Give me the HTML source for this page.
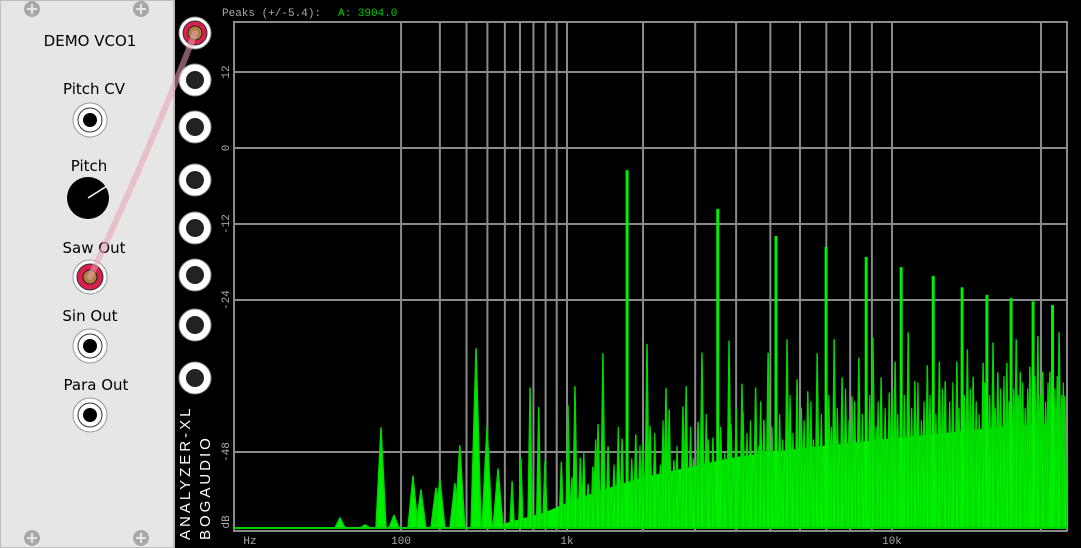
<!DOCTYPE html>
<html><head><meta charset="utf-8">
<style>
html,body{margin:0;padding:0;background:#000;width:1081px;height:548px;overflow:hidden;font-family:"Liberation Sans",sans-serif}
svg{display:block}
</style></head>
<body>
<svg id="root" width="1081" height="548" viewBox="0 0 1081 548" xmlns="http://www.w3.org/2000/svg">
  <g>
    <rect x="0" y="0" width="174" height="548" fill="#e6e6e6" stroke="#bdbdbd" stroke-width="2"/>
    <g><circle cx="32" cy="9" r="8" fill="#a8a8a8"/><path d="M27 9h10M32 4v10" stroke="#e6e6e6" stroke-width="2"/></g>
    <g><circle cx="141" cy="9" r="8" fill="#a8a8a8"/><path d="M136 9h10M141 4v10" stroke="#e6e6e6" stroke-width="2"/></g>
    <g><circle cx="32" cy="538" r="8" fill="#a8a8a8"/><path d="M27 538h10M32 533v10" stroke="#e6e6e6" stroke-width="2"/></g>
    <g><circle cx="141" cy="538" r="8" fill="#a8a8a8"/><path d="M136 538h10M141 533v10" stroke="#e6e6e6" stroke-width="2"/></g>
    <text x="90" y="46" text-anchor="middle" font-size="15" fill="#000" font-family="DejaVu Sans, sans-serif">DEMO VCO1</text>
    <text x="94" y="94" text-anchor="middle" font-size="15" fill="#000" font-family="DejaVu Sans, sans-serif">Pitch CV</text>
    <g><circle cx="90" cy="120" r="17" fill="#fff" stroke="#999"/><circle cx="90" cy="120" r="12" fill="#fff" stroke="#333"/><circle cx="90" cy="120" r="7" fill="#000"/></g>
    <text x="89" y="171" text-anchor="middle" font-size="15" fill="#000" font-family="DejaVu Sans, sans-serif">Pitch</text>
    <g><circle cx="88" cy="198" r="21" fill="#000"/><line x1="88" y1="198" x2="107" y2="186" stroke="#fff" stroke-width="1.5"/></g>
    <text x="94" y="253" text-anchor="middle" font-size="15" fill="#000" font-family="DejaVu Sans, sans-serif">Saw Out</text>
    <g><circle cx="90" cy="277" r="17" fill="#fff" stroke="#999"/><circle cx="90" cy="277" r="13" fill="#d8204a" stroke="#333"/><circle cx="90" cy="277" r="7" fill="#b08040" stroke="#222"/></g>
    <text x="90" y="321" text-anchor="middle" font-size="15" fill="#000" font-family="DejaVu Sans, sans-serif">Sin Out</text>
    <g><circle cx="90" cy="346" r="17" fill="#fff" stroke="#999"/><circle cx="90" cy="346" r="12" fill="#fff" stroke="#333"/><circle cx="90" cy="346" r="7" fill="#000"/></g>
    <text x="96" y="390" text-anchor="middle" font-size="15" fill="#000" font-family="DejaVu Sans, sans-serif">Para Out</text>
    <g><circle cx="90" cy="415" r="17" fill="#fff" stroke="#999"/><circle cx="90" cy="415" r="12" fill="#fff" stroke="#333"/><circle cx="90" cy="415" r="7" fill="#000"/></g>
  </g>
  <g>
    <rect x="175" y="0" width="906" height="548" fill="#000"/>
    <g id="jacks"></g>
    <text transform="translate(190,540) rotate(-90)" font-size="15" fill="#fff" letter-spacing="3">ANALYZER-XL</text>
    <text transform="translate(210,540) rotate(-90)" font-size="15" fill="#fff" letter-spacing="3">BOGAUDIO</text>
    <text x="222" y="16" font-size="11" fill="#aaa" font-family="Liberation Mono, monospace">Peaks (+/-5.4):</text>
    <text x="338" y="16" font-size="11" fill="#0c0" font-family="Liberation Mono, monospace">A: 3904.0</text>
    <g id="plot"></g>
  </g>
  <path d="M90 277 Q 150 150 195 33" stroke="#e8a0b0" stroke-opacity="0.55" stroke-width="6" fill="none" stroke-linecap="round"/>
</svg>
<script>
// ---- data ----
const vGridFreqs = [100,200,300,400,500,600,700,800,900,1000,2000,3000,4000,5000,6000,7000,8000,9000,10000,20000];
const hGridDb = [12,0,-12,-24,-48];
const yTickLabels = ["12","0","-12","-24","-48"];
const xTickFreqs = [100,1000,10000];
const xTickLabels = ["100","1k","10k"];
const harmFreqs = [1749,3526,5180,6990,8730,10480,12290,14100,15800,17590,19340,20990];
const harmDb = [-3.5,-9.6,-13.9,-15.6,-17.2,-18.8,-20.2,-22,-23.2,-23.7,-24.2,-24.8];
const aliasFreqs = [22.5,45,65.6,86.7,125.6,145,187.5,200,253,272,343,398,459,546,606,674,742,795,944,1010,1083,1141,1287,1350,1412,1480,1675,1883,1998,2066,2118,2405,2465,2558,2740,2806,3064,3152,3408,3813,3864,4160,4188,4550,4800,4930,5548,5896,6284,6640,7320,7650,8080,8390,9050,9450,9860,10160,10860,11230,11940,12660,13020,13760,14450,14840,15530,16240,16590,17270,17990,18310,19080,19740,20150,20760,21570,22080];
const aliasDb = [-58.4,-59.5,-44.2,-58,-51.8,-54,-53.7,-52.3,-53,-47,-31.7,-44,-50.7,-52.7,-49,-37.9,-41,-49.4,-49.6,-40.7,-37.7,-49,-50.4,-43.7,-32.5,-47.2,-46,-45.3,-46.7,-31,-44,-38,-41.4,-49.4,-40.9,-37.7,-43.3,-32.4,-45.8,-30.5,-43.7,-37.3,-41.8,-37.9,-43,-32.4,-30.3,-36.6,-38.5,-32.5,-30.3,-36.3,-39.3,-33.2,-30,-36.3,-38.7,-33.8,-29.2,-36.9,-34.4,-33.8,-36.9,-33.8,-31.9,-36.2,-34,-30.8,-35.5,-34,-30.3,-35.4,-34.6,-29.8,-35.4,-35.4,-29.2,-39.3];
// minor spikes forming the dense forest
const minorFreqs = [1050,1180,1230,1320,1560,1620,1820,1950,2200,2300,2350,2620,2900,2960,3250,3300,3600,3700,4000,4300,4400,4650,4700,5050,5300,5400,5650,5750,6050,6150,6400,6500,6800,7100,7200,7450,7800,7950,8200,8550,8900,9200,9300,9650,10000,10300,10650,11050,11400,11600,11750,12100,12450,12850,13300,13500,13900,14250,14650,15050,15250,15650,16000,16400,16800,17050,17450,17800,18150,18500,18700,18900,19500,19950,20400,20600,21200,21400,21800,21950];
const minorDb = [-52,-48,-53,-46,-50,-44,-49,-47,-45,-50,-43,-47,-44,-49,-42,-46,-44,-48,-41,-45,-43,-47,-40,-44,-42,-46,-39,-45,-41,-43,-40,-46,-42,-39,-44,-41,-38,-43,-40,-42,-39,-44,-40,-41,-38,-42,-39,-41,-37,-43,-40,-39,-42,-38,-40,-37,-41,-39,-38,-40,-42,-37,-39,-41,-38,-36,-40,-38,-39,-37,-41,-38,-36,-39,-40,-37,-38,-36,-39,-37];
const bedFreqs = [400,800,1000,1400,2000,2800,3800,5000,7000,9500,13000,17000,22050];
const bedDb = [-60,-57.5,-56,-54,-52,-50.5,-49,-48,-47,-46,-45,-44,-43.5];

// ---- scales ----
const X0=228, XC=45.1, XP=0.292, PL=234, PR=1067, PT=22, PB=531;
function xScale(f){return X0+XC*Math.pow(f,XP);}
function yScale(db){return 148-db*76/12;}
const NS='http://www.w3.org/2000/svg';
function mk(tag,attrs,parent){const e=document.createElementNS(NS,tag);for(const k in attrs)e.setAttribute(k,attrs[k]);parent.appendChild(e);return e;}

const jg=document.getElementById('jacks');
const jackYs=[33,80,127,180,228,275,325,378];
jackYs.forEach((y,i)=>{
  const g=mk('g',{},jg);
  
  
  mk('circle',{cx:195,cy:y,r:16,fill:'#fff',stroke:'#888'},g);
  if(i===0){mk('circle',{cx:195,cy:y,r:12,fill:'#d8204a',stroke:'#333'},g);mk('circle',{cx:195,cy:y,r:7,fill:'#b08040',stroke:'#222'},g);}
  else mk('circle',{cx:195,cy:y,r:9,fill:'#222'},g);
});

const plot=document.getElementById('plot');
const defs=mk('defs',{},plot);
const cp=mk('clipPath',{id:'pc'},defs);
mk('rect',{x:PL,y:PT,width:PR-PL,height:PB-PT},cp);

const grid=mk('g',{stroke:'#8a8a8a','stroke-width':2},plot);


vGridFreqs.forEach(f=>{const l=mk('line',{x1:xScale(f),x2:xScale(f),y1:PT,y2:PB},grid);
  
  });
hGridDb.forEach(d=>{const l=mk('line',{x1:PL,x2:PR,y1:yScale(d),y2:yScale(d)},grid);
  
  });
const frame=mk('rect',{x:PL,y:PT,width:PR-PL,height:PB-PT,fill:'none',stroke:'#8a8a8a','stroke-width':2},plot);



hGridDb.forEach((d,i)=>{const t=mk('text',{transform:`translate(229,${yScale(d)}) rotate(-90)`,'text-anchor':'middle','font-size':11,fill:'#aaa','font-family':'Liberation Mono, monospace'},plot);
  t.textContent=yTickLabels[i];
  
  });
const dbl=mk('text',{transform:'translate(229,522) rotate(-90)','text-anchor':'middle','font-size':11,fill:'#aaa','font-family':'Liberation Mono, monospace'},plot);
dbl.textContent='dB';


xTickFreqs.forEach((f,i)=>{const t=mk('text',{x:xScale(f),y:544,'text-anchor':'middle','font-size':11,fill:'#aaa','font-family':'Liberation Mono, monospace'},plot);
  t.textContent=xTickLabels[i];
  
  });
const hz=mk('text',{x:250,y:544,'text-anchor':'middle','font-size':11,fill:'#aaa','font-family':'Liberation Mono, monospace'},plot);
hz.textContent='Hz';



const sg=mk('g',{'clip-path':'url(#pc)'},plot);


const base=yScale(-60);
let bp=`M${xScale(bedFreqs[0])} ${base} `;
bedFreqs.forEach((f,i)=>{bp+=`L${xScale(f)} ${yScale(bedDb[i])} `;});
bp+=`L${xScale(bedFreqs[bedFreqs.length-1])} ${base} Z`;
const bed=mk('path',{d:bp,fill:'#00ee00'},sg);


minorFreqs.forEach((f,i)=>{
  const x=xScale(f), y=yScale(minorDb[i]);
  const p=mk('path',{d:`M${x-2.5} ${base} L${x} ${y} L${x+2.5} ${base} Z`,fill:'#00f000',stroke:'#00d800','stroke-width':1.2},sg);
  
  
});
aliasFreqs.forEach((f,i)=>{
  const x=xScale(f), y=yScale(aliasDb[i]);
  const w=x<500?5:2.2;
  const p=mk('path',{d:`M${x-w} ${base} L${x} ${y} L${x+w} ${base} Z`,fill:'#00f000',stroke:'#00d800','stroke-width':1.5,'stroke-linejoin':'round'},sg);
  
  
});
harmFreqs.forEach((f,i)=>{
  const x=xScale(f), y=yScale(harmDb[i]);
  const r=mk('rect',{x:x-1.5,y:y,width:3,height:base-y,fill:'#00f000'},sg);
  
  
});
const bl=mk('line',{x1:PL,x2:PR,y1:base,y2:base,stroke:'#00d000','stroke-width':2},sg);


</script>
</body></html>
